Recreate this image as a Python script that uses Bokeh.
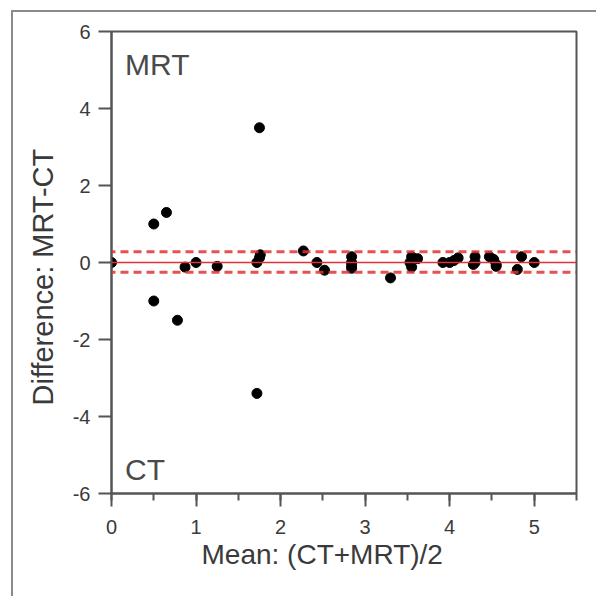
from bokeh.plotting import figure
from bokeh.models import Span, Label, Title, FixedTicker, ColumnDataSource, Range1d, CustomJSTickFormatter
from bokeh.embed import file_html
from bokeh.resources import INLINE

# Bland-Altman data: mean of CT and MRT vs difference MRT-CT
mean_vals = [0.0, 0.5, 0.65, 0.5, 0.78, 0.87, 1.0, 1.25, 1.72, 1.75, 1.76, 1.75, 1.72,
             2.27, 2.43, 2.52, 2.84, 2.84, 2.84, 2.84, 3.3, 3.55, 3.53, 3.55, 3.62,
             3.92, 4.0, 4.05, 4.1, 4.3, 4.3, 4.28, 4.47, 4.52, 4.55, 4.55, 4.8, 4.85, 5.0]
diff_vals = [0.0, 1.0, 1.3, -1.0, -1.5, -0.12, 0.0, -0.1, 0.0, 0.12, 0.2, 3.5, -3.4,
             0.3, 0.0, -0.2, 0.15, 0.0, -0.08, -0.15, -0.4, 0.15, 0.0, -0.12, 0.1,
             0.0, 0.0, 0.05, 0.12, 0.15, 0.0, -0.05, 0.15, 0.08, -0.05, -0.1, -0.18, 0.15, 0.0]

mean_diff = 0.0
upper_loa = 0.28
lower_loa = -0.25

x_ticks = [0, 1, 2, 3, 4, 5]
y_ticks = [-6, -4, -2, 0, 2, 4, 6]
x_lim = (0, 5.5)
y_lim = (-6, 6)
x_title = "Mean: (CT+MRT)/2"
y_title = "Difference: MRT-CT"

FONT = "Liberation Sans"
AX = "#555555"
TXT = "#3a3a3a"
RED = "#e23232"

p = figure(frame_width=465, frame_height=462,
           min_border_left=98, min_border_right=20, min_border_top=19, min_border_bottom=103,
           x_range=Range1d(*x_lim), y_range=Range1d(*y_lim),
           output_backend="svg", toolbar_location=None)
p.styles = {"margin-left": "11px", "margin-top": "10px",
            "border-left": "2px solid #8a8a8a", "border-top": "2px solid #8a8a8a"}

p.grid.visible = False
p.outline_line_color = AX
p.outline_line_width = 2
p.outline_line_alpha = 1.0

fmt = CustomJSTickFormatter(code="return String(tick);")
p.xaxis.ticker = FixedTicker(ticks=x_ticks, minor_ticks=[v / 2 for v in range(0, 12)])
p.yaxis.ticker = FixedTicker(ticks=y_ticks)
for ax in (p.xaxis, p.yaxis):
    ax.formatter = fmt
    ax.axis_line_color = AX
    ax.axis_line_width = 2
    ax.major_tick_line_color = AX
    ax.major_tick_line_width = 2
    ax.major_tick_out = 13
    ax.major_tick_in = 0
    ax.minor_tick_line_color = AX
    ax.minor_tick_line_width = 2
    ax.minor_tick_out = 7
    ax.minor_tick_in = 0
    ax.major_label_text_font = FONT
    ax.major_label_text_font_size = "20px"
    ax.major_label_text_color = TXT
p.yaxis.minor_tick_line_color = None
p.xaxis.major_label_standoff = 13
p.yaxis.major_label_standoff = 8

# axis titles as side titles (offset from centre as in the original)
p.add_layout(Title(text=x_title, align="left", offset=90, standoff=0,
                   text_font=FONT, text_font_size="28px", text_font_style="normal",
                   text_color=TXT), "below")
p.add_layout(Title(text=y_title, align="left", offset=88, standoff=22,
                   text_font=FONT, text_font_size="29px", text_font_style="normal",
                   text_color=TXT), "left")

p.add_layout(Span(location=mean_diff, dimension="width", line_color=RED, line_width=1.5))
p.add_layout(Span(location=upper_loa, dimension="width", line_color=RED, line_width=3,
                  line_dash="8 5", line_dash_offset=4, line_alpha=0.85))
p.add_layout(Span(location=lower_loa, dimension="width", line_color=RED, line_width=3,
                  line_dash="8 5", line_dash_offset=4, line_alpha=0.85))

src = ColumnDataSource(dict(x=mean_vals, y=diff_vals))
p.scatter("x", "y", source=src, size=10, color="black")

p.add_layout(Label(x=0.16, y=5.15, text="MRT", text_font=FONT, text_font_size="30px",
                   text_color="#4a4a4a", text_baseline="middle"))
p.add_layout(Label(x=0.16, y=-5.38, text="CT", text_font=FONT, text_font_size="30px",
                   text_color="#4a4a4a", text_baseline="middle"))

open("out.html", "w").write(file_html(p, INLINE))
